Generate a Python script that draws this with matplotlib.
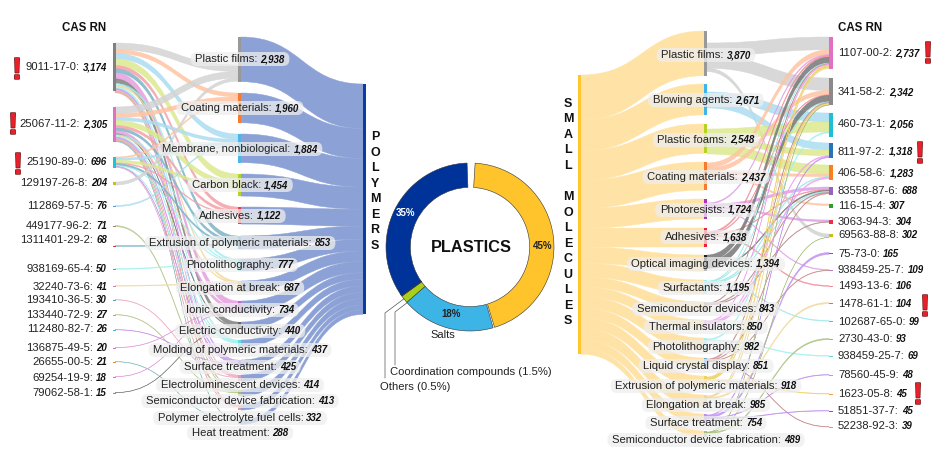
import matplotlib
matplotlib.use("Agg")
import matplotlib.pyplot as plt
from matplotlib.path import Path
from matplotlib.patches import PathPatch, Rectangle, FancyBboxPatch
import matplotlib.patheffects as pe

plt.rcParams['font.family'] = ['Liberation Sans', 'DejaVu Sans']

# ---------- data ----------
left_chems = ["9011-17-0", "25067-11-2", "25190-89-0", "129197-26-8", "112869-57-5", "449177-96-2",
              "1311401-29-2", "938169-65-4", "32240-73-6", "193410-36-5", "133440-72-9", "112480-82-7",
              "136875-49-5", "26655-00-5", "69254-19-9", "79062-58-1"]
left_chem_vals = [3174, 2305, 696, 204, 76, 71, 68, 50, 41, 30, 27, 26, 20, 21, 18, 15]
left_cats = ["Plastic films", "Coating materials", "Membrane, nonbiological", "Carbon black", "Adhesives",
             "Extrusion of polymeric materials", "Photolithography", "Elongation at break", "Ionic conductivity",
             "Electric conductivity", "Molding of polymeric materials", "Surface treatment",
             "Electroluminescent devices", "Semiconductor device fabrication", "Polymer electrolyte fuel cells",
             "Heat treatment"]
left_cat_vals = [2938, 1960, 1884, 1454, 1122, 853, 777, 687, 734, 440, 437, 425, 414, 413, 332, 288]

left_src = [0,0,0,0,0,0,0,0,0,0,0,0,0,0,0,
            1,1,1,1,1,1,1,1,1,1,1,1,1,1,1,1,
            2,2,2,2,2,2,2,2,2,
            3,4,5,6,7,8,9,10,11,12,13,14,15]
left_dst = [0,1,2,3,4,5,8,9,6,7,10,11,12,13,14,
            0,1,2,3,4,5,8,9,6,7,10,11,12,13,14,15,
            1,2,3,4,5,6,10,11,12,
            0,2,13,5,6,7,12,13,11,8,15,8,9]
left_val = [430,260,350,440,220,260,400,300,120,100,120,100,60,60,60,
            430,260,200,330,170,170,200,60,60,50,60,100,50,40,60,40,
            90,130,170,60,110,30,30,30,30,
            204,76,71,68,50,41,30,27,26,20,21,18,15]

right_cats = ["Plastic films", "Blowing agents", "Plastic foams", "Coating materials", "Photoresists", "Adhesives",
              "Optical imaging devices", "Surfactants", "Semiconductor devices", "Thermal insulators",
              "Photolithography", "Liquid crystal display", "Extrusion of polymeric materials",
              "Elongation at break", "Surface treatment", "Semiconductor device fabrication"]
right_cat_vals = [3870, 2671, 2548, 2437, 1724, 1638, 1394, 1195, 843, 850, 982, 851, 918, 985, 754, 489]
right_chems = ["1107-00-2", "341-58-2", "460-73-1", "811-97-2", "406-58-6", "83558-87-6", "116-15-4", "3063-94-3",
               "69563-88-8", "75-73-0", "938459-25-7", "1493-13-6", "1478-61-1", "102687-65-0", "2730-43-0",
               "938459-25-7", "78560-45-9", "1623-05-8", "51851-37-7", "52238-92-3"]
right_chem_vals = [2737, 2342, 2056, 1318, 1283, 688, 307, 304, 302, 165, 109, 106, 104, 99, 93, 69, 48, 45, 45, 39]

right_src = [0,0,0, 1,1, 2,2,2, 3,3,3,3, 4,4,4,4, 5,5,5,5, 6,6,6, 7,7,7,7,7, 8,8,8,
             9,9,9, 10,10, 11,11,11,11, 12,12,12, 13,13,13, 14,14,14,14, 15,15,15]
right_dst = [0,1,8, 2,3, 2,3,4, 0,1,4,6, 0,5,7,10, 0,1,5,11, 0,1,5, 0,1,4,5,13, 0,5,7,
             0,3,4, 2,15, 1,5,10,19, 0,1,17, 0,1,12, 3,9,16,18, 1,8,14]
right_val = [1100,1080,290, 780,600, 860,500,800, 420,370,200,130, 100,220,150,60, 130,60,60,70, 500,550,100,
             60,50,80,80,60, 60,70,50, 90,90,100, 100,60, 100,60,40,39, 200,60,45, 80,60,104, 80,165,48,45, 40,12,93]

donut_labels = ["Small molecules", "Salts", "Coordination compounds", "Others", "Polymers"]
donut_vals = [45, 18, 1.5, 0.5, 35]

# ---------- layout (pixel space of the 936x474 canvas) ----------
L_SCALE, R_SCALE = 0.0152, 0.01156
lchem_top = [43, 107, 157, 182, 205.5, 225.5, 245.5, 268.5, 285.5, 299.5, 314.5, 329.5, 347.5, 361.5, 376.5, 392.5]
lchem_lab = [67, 124, 162, 183, 206, 226, 240, 269, 287, 300, 315, 329, 348, 362, 378, 393]
lchem_col = ['#808080', '#E070C4', '#22C3D6', '#C2C21E', '#4F9FE0', '#B08070', '#E8323C', '#A56CD8', '#F070B8',
             '#4F9FE0', '#B5B53A', '#30C4D4', '#E070C4', '#F98A20', '#E070C4', '#909090']
lcat_top = [37, 93, 134, 174, 207, 236, 259, 281, 301, 322, 340, 360, 375, 390, 405, 420]
lcat_start = [65, 93, 134, 174, 207, 236, 259, 281, 301, 322, 340, 360, 375, 390, 405, 420]
lcat_lab = [59, 108, 149, 185, 216, 243, 265, 288, 310, 331, 350, 367, 385, 401, 418, 433]
lcat_node = ['#999999', '#F97A2A', '#4CB6E8', '#B7D21F', '#EE3B4A', '#3E8FB0', '#5FE0E0', '#E8B84A', '#C860D0',
             '#666666', '#5FE0E0', '#A060E0', '#E898B8', '#A8B870', '#E89898', '#70B0B0']
lcat_link = ['#D4D4D4', '#FFC4A3', '#ACDDF2', '#DCE98E', '#F5A0A8', '#7FB3C8', '#A4F0F0', '#F3D79A', '#E4A0E0',
             '#808080', '#A4F0F0', '#C896F0', '#F0B0C8', '#B8C890', '#F0A8A8', '#90C0C0']

rcat_top = [31, 84, 124, 162, 199, 228, 255, 280, 302, 320, 338, 358, 376, 395, 414, 431]
rcat_start = [43, 92, 129, 163, 203, 232, 255, 281, 303, 321, 339, 359, 377, 396, 415, 432]
rcat_lab = [55, 100, 140, 177, 210, 237, 264, 288, 309, 327, 347, 366, 386, 405, 423, 440]
rcat_node = ['#999999', '#3FB4EC', '#B7D21F', '#F97A2A', '#B030C0', '#EE2233', '#222222', '#9FEFF0', '#B89090',
             '#F0A0F0', '#9FEFF0', '#6FA8D8', '#F0D060', '#F3D79A', '#C090F0', '#A8C080']
rcat_link = ['#D2D2D2', '#ACDDF2', '#DCE98E', '#FFC4A3', '#DDA0E6', '#F58A98', '#777777', '#A0E8E8', '#B89090',
             '#F0A0F0', '#A0F0F0', '#C89090', '#F0D060', '#F3D79A', '#C090F0', '#A8C080']
rchem_top = [37, 78, 113, 143, 165, 187, 204, 220, 234, 252.5, 269.5, 285.5, 302.5, 320.5, 338.5, 355.5, 374.5, 393.5, 410.5, 426.5]
rchem_lab = [53, 92, 124, 152, 173, 191, 206, 222, 235, 254, 270, 286, 304, 322, 339, 356, 375, 394, 411, 426]
rchem_col = ['#E070C4', '#8A8A8A', '#1EBFD6', '#2B73B8', '#F98020', '#9467BD', '#2CA02C', '#E8323C', '#C2C21E',
             '#E8323C', '#B080C0', '#F09090', '#60B060', '#A0A0A0', '#B5B53A', '#60D8E0', '#C090F0', '#F0A040',
             '#9050B0', '#70B8E8']

W, H = 936, 474
fig = plt.figure(figsize=(W / 100, H / 100), dpi=100)
ax = fig.add_axes([0, 0, 1, 1])
ax.set_xlim(0, W)
ax.set_ylim(H, 0)
ax.axis('off')
rend = fig.canvas.get_renderer()


def ribbon(x0, y0, x1, y1, w, color, alpha=1.0, z=1):
    xm = (x0 + x1) / 2
    verts = [(x0, y0), (xm, y0), (xm, y1), (x1, y1), (x1, y1 + w), (xm, y1 + w), (xm, y0 + w), (x0, y0 + w), (x0, y0)]
    codes = [Path.MOVETO, Path.CURVE4, Path.CURVE4, Path.CURVE4, Path.LINETO, Path.CURVE4, Path.CURVE4, Path.CURVE4,
             Path.CLOSEPOLY]
    ax.add_patch(PathPatch(Path(verts, codes), fc=color, ec=color, lw=0.35, alpha=alpha, zorder=z))


def node(x, top, h, color, width=3, z=4):
    ax.add_patch(Rectangle((x, top), width, max(h, 1.2), fc=color, ec='none', zorder=z))


NAME_FS, VAL_FS = 8.1, 7.0


def label(x, y, name, value, anchor, pill=False):
    t1 = ax.text(0, y, name + ":", fontsize=NAME_FS, color='#222222', ha='left', va='center', zorder=7)
    t2 = ax.text(0, y, f"{value:,}", fontsize=VAL_FS, color='#111111', fontweight='bold', fontstyle='italic',
                 ha='left', va='center', zorder=7)
    w1 = t1.get_window_extent(rend).width + 3
    w2 = t2.get_window_extent(rend).width
    total = w1 + w2
    left = {'right': x - total, 'left': x, 'center': x - total / 2}[anchor]
    t1.set_x(left)
    t2.set_x(left + w1)
    if pill:
        ax.add_patch(FancyBboxPatch((left - 2, y - 4.5), total + 4, 9, boxstyle="round,pad=2.5,rounding_size=6.5",
                                    fc='#EEEEEE', ec='none', alpha=0.75, zorder=6))


# --- left sankey ---
src_y = list(lchem_top)
dst_y = list(lcat_start)
for s, d, v in zip(left_src, left_dst, left_val):
    w = v * L_SCALE
    ribbon(115, src_y[s], 238, dst_y[d], w, lcat_link[d], alpha=0.85, z=2)
    src_y[s] += w
    dst_y[d] += w
for top, v, c in zip(lchem_top, left_chem_vals, lchem_col):
    node(113, top, v * L_SCALE, c)
bar_y = 84
for top, v, c in zip(lcat_top, left_cat_vals, lcat_node):
    h = v * L_SCALE
    ribbon(241, top, 363, bar_y, h, '#8CA2D6', z=1)
    bar_y += h
    node(238, top, h, c)
ax.add_patch(Rectangle((363, 84), 3, bar_y - 84, fc='#0B3CA3', ec='none', zorder=4))

# --- right sankey ---
src_y = list(rcat_start)
dst_y = list(rchem_top)
for s, d, v in zip(right_src, right_dst, right_val):
    w = v * R_SCALE
    ribbon(707, src_y[s], 829, dst_y[d], w, rcat_link[s], alpha=0.85, z=2)
    src_y[s] += w
    dst_y[d] += w
for top, v, c in zip(rchem_top, right_chem_vals, rchem_col):
    node(829, top, v * R_SCALE, c, width=4)
bar_y = 75
for top, v, c in zip(rcat_top, right_cat_vals, rcat_node):
    h = v * R_SCALE
    ribbon(581, bar_y, 704, top, h, '#FFE3A6', z=1)
    bar_y += h
    node(704, top, h, c)
ax.add_patch(Rectangle((578, 75), 3, bar_y - 75, fc='#FFC42E', ec='none', zorder=4))

# --- labels ---
for n, v, y in zip(left_chems, left_chem_vals, lchem_lab):
    label(107, y, n, v, 'right')
for n, v, y in zip(left_cats, left_cat_vals, lcat_lab):
    label(240, y, n, v, 'center', pill=True)
for n, v, y in zip(right_cats, right_cat_vals, rcat_lab):
    label(706, y, n, v, 'center', pill=True)
for n, v, y in zip(right_chems, right_chem_vals, rchem_lab):
    label(838, y, n, v, 'left')

ax.text(84, 28, "CAS RN", fontsize=8.3, fontweight='bold', ha='center', va='center', color='#111111')
ax.text(838, 28, "CAS RN", fontsize=8.3, fontweight='bold', ha='left', va='center', color='#111111')

ax.text(375, 191.5, "P\nO\nL\nY\nM\nE\nR\nS", fontsize=9, fontweight='bold', ha='center', va='center',
        linespacing=1.39, color='#111111')
ax.text(568, 212.5, "S\nM\nA\nL\nL\n \nM\nO\nL\nE\nC\nU\nL\nE\nS", fontsize=9, fontweight='bold', ha='center',
        va='center', linespacing=1.39, color='#111111')

# --- warning marks ---
warn_x = [17, 13, 18, 928, 920, 925, 918]
warn_y = [71, 126, 166, 55, 155, 308, 396]
for x, y in zip(warn_x, warn_y):
    ax.text(x, y, "!", fontsize=22, fontweight='bold', color='#E8202A', ha='center', va='center', zorder=8,
            path_effects=[pe.withStroke(linewidth=1.0, foreground='#701010')])

# --- donut ---
cx, cy, r = 470, 247, 84
dax = fig.add_axes([(cx - r) / W, 1 - (cy + r) / H, 2 * r / W, 2 * r / H])
dax.patch.set_alpha(0)
wedges, _ = dax.pie(donut_vals, colors=['#FFC32B', '#3CB4E5', '#A9CF1D', '#E8632A', '#00339A'], startangle=88,
                    counterclock=False, radius=1.0, wedgeprops=dict(width=0.29, edgecolor='#333333', linewidth=0.4))
dax.set_xlim(-1, 1)
dax.set_ylim(-1, 1)
wedges[0].set_theta2(wedges[0].theta2 - 1.5)
wedges[0].set_theta1(wedges[0].theta1 + 1.0)
wedges[4].set_theta2(wedges[4].theta2 + 1.5)
wedges[4].set_theta1(wedges[4].theta1 + 4.0)
ax.text(471, 247, "PLASTICS", fontsize=11.8, fontweight='bold', ha='center', va='center', color='#111111', zorder=9)
dax.text(-0.77, 0.40, "35%", fontsize=7, fontweight='bold', color='white', ha='center', va='center')
dax.text(0.87, 0.01, "45%", fontsize=7, fontweight='bold', color='#222222', ha='center', va='center')
dax.text(-0.226, -0.80, "18%", fontsize=7, fontweight='bold', color='#222222', ha='center', va='center')

ax.plot([405, 385, 385], [298, 313, 378], color='#555555', lw=0.5, zorder=5)
ax.plot([408, 395, 395], [302, 312, 365], color='#555555', lw=0.5, zorder=5)
ax.text(443, 335, "Salts", fontsize=8, ha='center', va='center', color='#222222')
ax.text(390, 372, "Coordination compounds (1.5%)", fontsize=8.1, ha='left', va='center', color='#222222')
ax.text(380, 387, "Others (0.5%)", fontsize=8.1, ha='left', va='center', color='#222222')

fig.savefig("out.png", dpi=100)
